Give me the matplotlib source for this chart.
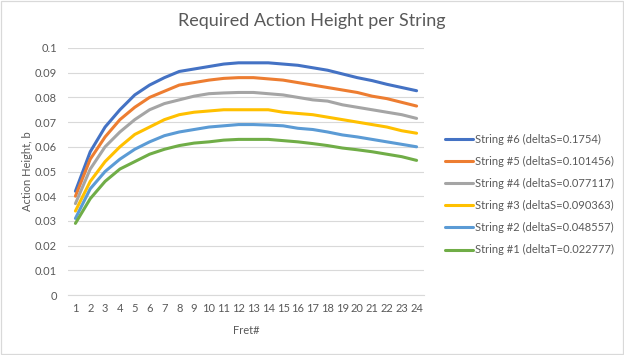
import numpy as np
import matplotlib
matplotlib.use("Agg")
import matplotlib.pyplot as plt
from matplotlib.patches import Rectangle

frets = list(range(1, 25))
labels = ["String #6 (deltaS=0.1754)", "String #5 (deltaS=0.101456)",
          "String #4 (deltaS=0.077117)", "String #3 (deltaS=0.090363)",
          "String #2 (deltaS=0.048557)", "String #1 (deltaT=0.022777)"]
colors = ["#4472C4", "#ED7D31", "#A5A5A5", "#FFC000", "#5B9BD5", "#70AD47"]

s6 = [0.042, 0.058, 0.068, 0.075, 0.081, 0.085, 0.088, 0.0905, 0.0915, 0.0925, 0.0935, 0.094,
      0.094, 0.094, 0.0935, 0.093, 0.092, 0.091, 0.0895, 0.088, 0.0868, 0.0853, 0.084, 0.0827]
s5 = [0.040, 0.055, 0.064, 0.071, 0.076, 0.080, 0.0825, 0.085, 0.086, 0.087, 0.0877, 0.088,
      0.088, 0.0875, 0.087, 0.086, 0.085, 0.084, 0.083, 0.082, 0.0805, 0.0795, 0.078, 0.0765]
s4 = [0.037, 0.051, 0.060, 0.066, 0.071, 0.075, 0.0775, 0.079, 0.0805, 0.0815, 0.0818, 0.082,
      0.082, 0.0815, 0.081, 0.080, 0.079, 0.0785, 0.077, 0.076, 0.075, 0.074, 0.073, 0.0715]
s3 = [0.034, 0.046, 0.054, 0.060, 0.065, 0.068, 0.071, 0.073, 0.074, 0.0745, 0.075, 0.075,
      0.075, 0.075, 0.074, 0.0735, 0.073, 0.072, 0.071, 0.070, 0.069, 0.068, 0.0665, 0.0655]
s2 = [0.031, 0.043, 0.050, 0.055, 0.059, 0.062, 0.0645, 0.066, 0.067, 0.068, 0.0685, 0.069,
      0.069, 0.0688, 0.0685, 0.0675, 0.067, 0.066, 0.0648, 0.064, 0.063, 0.062, 0.061, 0.060]
s1 = [0.029, 0.039, 0.046, 0.051, 0.054, 0.057, 0.059, 0.0605, 0.0615, 0.062, 0.0627, 0.063,
      0.063, 0.063, 0.0625, 0.062, 0.0613, 0.0605, 0.0595, 0.0588, 0.058, 0.057, 0.056, 0.0545]
series = [s6, s5, s4, s3, s2, s1]

yticks = [0, 0.01, 0.02, 0.03, 0.04, 0.05, 0.06, 0.07, 0.08, 0.09, 0.1]
ytick_labels = ["0", "0.01", "0.02", "0.03", "0.04", "0.05", "0.06", "0.07", "0.08", "0.09", "0.1"]

plt.rcParams['font.family'] = ['Lato', 'DejaVu Sans']
txt = "#595959"

fig = plt.figure(figsize=(6.24, 3.55), dpi=100)
fig.patches.append(Rectangle((0.0015, 0.0025), 0.997, 0.995, transform=fig.transFigure,
                             fill=False, edgecolor="#D9D9D9", linewidth=0.9))
ax = fig.add_axes([68/624, 1-295/355, 356/624, 247/355])

for ys, lab, c in zip(series, labels, colors):
    ax.plot(frets, ys, color=c, linewidth=2.2, label=lab, clip_on=False,
            solid_capstyle='round', solid_joinstyle='round')

ax.set_xlim(0.5, 24.5)
ax.set_ylim(0, 0.1)
ax.set_yticks(yticks)
ax.set_yticklabels(ytick_labels)
ax.set_xticks(frets)
ax.set_xticklabels([str(f) for f in frets])
ax.grid(axis='y', color="#D9D9D9", linewidth=0.8)
ax.set_axisbelow(True)
for sp in ["top", "right", "left"]:
    ax.spines[sp].set_visible(False)
ax.spines["bottom"].set_color("#D9D9D9")
ax.spines["bottom"].set_linewidth(0.8)
ax.tick_params(axis='both', length=0, labelsize=8, labelcolor=txt)
ax.tick_params(axis='y', pad=8)
ax.tick_params(axis='x', pad=6)

ax.set_xlabel("Fret#", fontsize=8, color=txt, labelpad=8)
ax.set_ylabel("Action Height, b", fontsize=8, color=txt, labelpad=1)
fig.text(0.5, 1-21/355, "Required Action Height per String", ha='center', va='center',
         fontsize=13, color=txt)

leg = ax.legend(loc='center left', bbox_to_anchor=(445/624, 1-194.5/355),
                bbox_transform=fig.transFigure, frameon=False, fontsize=8,
                handlelength=2.5, handletextpad=0.2, labelspacing=1.0,
                borderpad=0, borderaxespad=0)
for t in leg.get_texts():
    t.set_color(txt)

fig.savefig("out.png", dpi=100)
